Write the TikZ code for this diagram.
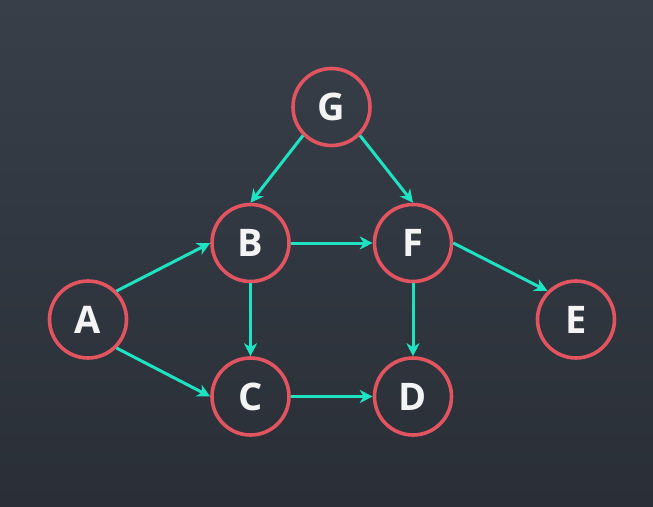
\documentclass[tikz,border=0pt]{standalone}
\usepackage{fontspec}
\setmainfont{Open Sans}
\usetikzlibrary{arrows.meta}
\definecolor{bgtop}{HTML}{383F49}
\definecolor{bgbot}{HTML}{2A2F37}
\definecolor{ring}{HTML}{E2545F}
\definecolor{edgec}{HTML}{1EE3C3}
\definecolor{txt}{HTML}{F4F4F4}
\begin{document}
\begin{tikzpicture}[x=1pt,y=-1pt,
  vert/.style={circle,draw=ring,line width=3.6pt,minimum size=77pt,inner sep=0pt,
    text=txt,font=\fontsize{38}{40}\selectfont\bfseries},
  link/.style={draw=edgec,line width=3pt,-{Stealth[length=13pt,width=13pt,inset=4pt]}}]
\shade[top color=bgtop,bottom color=bgbot] (0,0) rectangle (653,506);
\useasboundingbox (0,0) rectangle (653,506);
\node[vert] (G) at (331.5,107) {G};
\node[vert] (B) at (250.5,243) {B};
\node[vert] (F) at (413,243) {F};
\node[vert] (A) at (88,319.5) {A};
\node[vert] (E) at (576,319.5) {E};
\node[vert] (C) at (250.5,396.5) {C};
\node[vert] (D) at (413,396.5) {D};
\draw[link] (G.south west) -- (B.north);
\draw[link] (G.south east) -- (F.north);
\draw[link] (A.north east) -- (B.west);
\draw[link] (A.south east) -- (C.west);
\draw[link] (B.east) -- (F.west);
\draw[link] (B.south) -- (C.north);
\draw[link] (F.south) -- (D.north);
\draw[link] (C.east) -- (D.west);
\draw[link] (F.east) -- (E.north west);
\end{tikzpicture}
\end{document}
